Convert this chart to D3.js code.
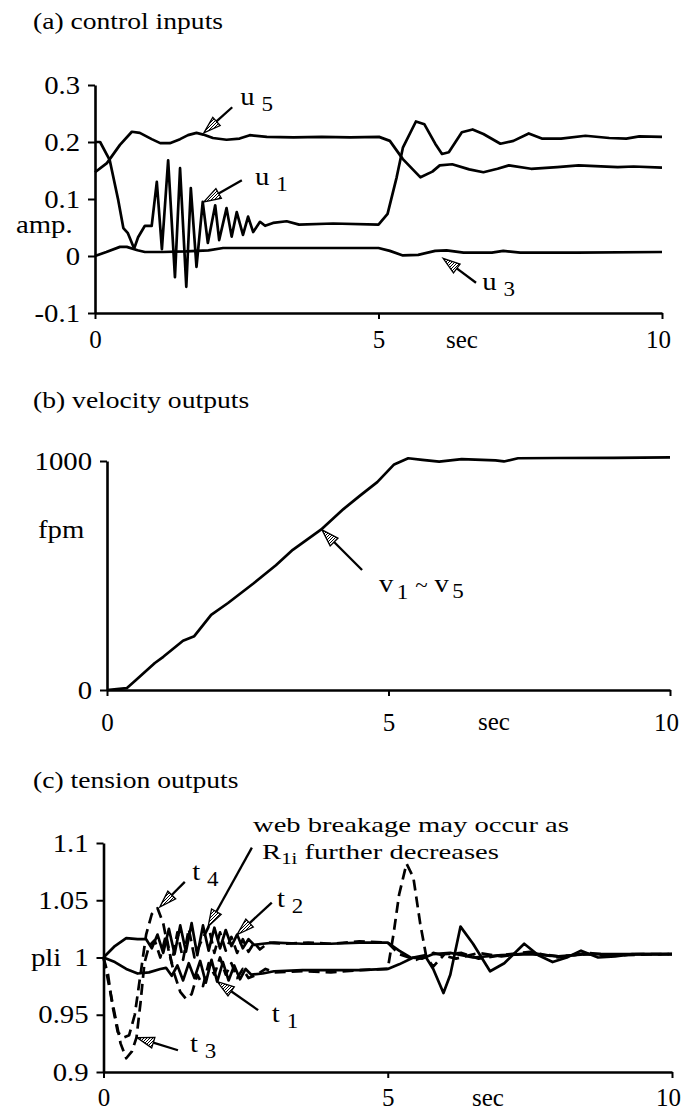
<!DOCTYPE html>
<html>
<head>
<meta charset="utf-8" />
<title>control inputs, velocity and tension outputs</title>
<script src="https://d3js.org/d3.v7.min.js"></script>
<style>
  body { margin: 0; background: #fff; }
  svg text { font-family: "Liberation Serif", "Times New Roman", serif; fill: #000; }
</style>
</head>
<body>
<svg id="chart" width="681" height="1113"></svg>
<script>
// ---- shared x axis (seconds)
var secTicks = [0, 5, 10];
var secTickLabels = ["0", "5", "10"];

// ---- (a) control inputs
var ampTicks = [-0.1, 0, 0.1, 0.2, 0.3];
var ampTickLabels = ["-0.1", "0", "0.1", "0.2", "0.3"];

var u1T = [0, 0.09, 0.26, 0.41, 0.5, 0.58, 0.69, 0.76, 0.88, 1.0, 1.09, 1.18, 1.29, 1.41, 1.5, 1.61, 1.69, 1.79, 1.9, 1.99, 2.12, 2.19, 2.32, 2.41, 2.5, 2.61, 2.7, 2.79, 2.91, 3.0, 3.14, 3.38, 3.6, 4.2, 5.0, 5.16, 5.32, 5.43, 5.66, 5.81, 6.0, 6.12, 6.24, 6.47, 6.66, 6.85, 7.15, 7.38, 7.65, 7.88, 8.22, 8.65, 9.07, 9.37, 9.6, 10];
var u1V = [0.2, 0.2, 0.168, 0.098, 0.049, 0.04, 0.013, 0.033, 0.053, 0.053, 0.13, 0.012, 0.168, -0.037, 0.154, -0.054, 0.119, -0.019, 0.095, 0.023, 0.089, 0.028, 0.084, 0.034, 0.077, 0.037, 0.069, 0.042, 0.06, 0.053, 0.058, 0.061, 0.055, 0.057, 0.055, 0.074, 0.138, 0.19, 0.236, 0.231, 0.197, 0.179, 0.182, 0.217, 0.222, 0.214, 0.197, 0.202, 0.215, 0.206, 0.206, 0.211, 0.207, 0.206, 0.21, 0.209];

var u5T = [0, 0.21, 0.44, 0.65, 0.79, 1.0, 1.15, 1.32, 1.5, 1.64, 1.79, 1.91, 2.08, 2.32, 2.55, 2.73, 3.03, 3.5, 4.0, 4.5, 5.01, 5.2, 5.43, 5.74, 5.95, 6.08, 6.3, 6.6, 6.85, 7.1, 7.3, 7.69, 8.15, 8.53, 9.22, 9.5, 10];
var u5V = [0.147, 0.163, 0.195, 0.218, 0.216, 0.205, 0.198, 0.198, 0.205, 0.212, 0.216, 0.213, 0.207, 0.204, 0.206, 0.212, 0.209, 0.208, 0.209, 0.208, 0.209, 0.202, 0.17, 0.138, 0.148, 0.159, 0.161, 0.152, 0.147, 0.153, 0.159, 0.153, 0.156, 0.159, 0.156, 0.157, 0.155];

var u3T = [0, 0.2, 0.44, 0.56, 0.75, 0.88, 1.2, 1.6, 2.0, 2.26, 2.6, 3.5, 4.5, 5.0, 5.2, 5.43, 5.7, 6.0, 6.2, 6.5, 7.0, 7.2, 7.5, 8.5, 10];
var u3V = [0, 0.007, 0.016, 0.016, 0.01, 0.007, 0.007, 0.008, 0.01, 0.014, 0.014, 0.014, 0.014, 0.014, 0.009, 0.001, 0.002, 0.009, 0.01, 0.006, 0.006, 0.009, 0.006, 0.006, 0.007];

// ---- (b) velocity outputs (v1 ~ v5 overlap)
var fpmTicks = [0, 1000];
var fpmTickLabels = ["0", "1000"];
var velT = [0, 0.35, 0.5, 0.85, 1.0, 1.35, 1.55, 1.85, 2.15, 2.6, 3.0, 3.3, 3.8, 4.2, 4.5, 4.8, 5.1, 5.35, 5.6, 5.9, 6.3, 6.9, 7.05, 7.3, 8, 9, 10];
var velV = [0, 8, 40, 118, 145, 215, 235, 328, 380, 465, 545, 612, 700, 790, 850, 908, 985, 1012, 1005, 997, 1008, 1003, 998, 1012, 1013, 1014, 1016];

// ---- (c) tension outputs
var pliTicks = [0.9, 0.95, 1, 1.05, 1.1];
var pliTickLabels = ["0.9", "0.95", "1", "1.05", "1.1"];

var t1T = [0, 0.2, 0.4, 0.6, 0.8, 1.0, 1.1, 1.2, 1.3, 1.4, 1.5, 1.6, 1.7, 1.8, 1.9, 2.0, 2.1, 2.2, 2.3, 2.4, 2.5, 2.6, 2.8, 3.0, 3.5, 4.0, 4.5, 5.0, 5.2, 5.45, 5.65, 5.8, 5.98, 6.1, 6.28, 6.5, 6.8, 7.05, 7.4, 7.65, 7.9, 8.15, 8.4, 8.7, 9.0, 9.3, 10];
var t1V = [1.0, 0.996, 0.99, 0.986, 0.987, 0.99, 0.991, 0.984, 0.993, 0.98, 0.995, 0.982, 0.997, 0.978, 0.998, 0.979, 0.996, 0.98, 0.993, 0.981, 0.99, 0.985, 0.986, 0.988, 0.989, 0.989, 0.989, 0.99, 0.994, 1.0, 1.002, 0.99, 0.969, 0.985, 1.027, 1.012, 0.988, 0.995, 1.012, 1.002, 0.996, 1.0, 1.006, 1.0, 1.001, 1.003, 1.003];

var t2T = [0, 0.2, 0.4, 0.6, 0.75, 0.85, 0.95, 1.05, 1.15, 1.25, 1.35, 1.45, 1.55, 1.65, 1.75, 1.85, 1.95, 2.05, 2.15, 2.25, 2.35, 2.45, 2.55, 2.65, 2.8, 3.0, 3.5, 4.0, 4.5, 5.0, 5.2, 5.4, 5.6, 5.8, 6.1, 6.5, 7.0, 7.5, 8.0, 8.5, 9.0, 9.5, 10];
var t2V = [1.0, 1.01, 1.017, 1.016, 1.016, 1.008, 1.02, 1.004, 1.025, 1.003, 1.028, 1.005, 1.03, 1.002, 1.028, 1.006, 1.026, 1.008, 1.024, 1.01, 1.02, 1.008, 1.016, 1.011, 1.012, 1.013, 1.012, 1.012, 1.013, 1.013, 1.006, 1.0, 0.999, 1.003, 1.004, 1.0, 1.002, 1.003, 1.001, 1.003, 1.003, 1.003, 1.003];

var t3T = [0, 0.1, 0.2, 0.3, 0.4, 0.5, 0.58, 0.65, 0.72, 0.8, 0.9, 1.0, 1.1, 1.2, 1.3, 1.4, 1.5, 1.6, 1.7, 1.85, 1.95, 2.05, 2.15, 2.25, 2.35, 2.45, 2.55, 2.65, 2.75, 2.9, 3.2, 3.6, 4.0, 4.5, 5.0, 5.2, 5.5, 5.8, 6.2, 6.6, 7.0, 7.5, 8.0, 8.5, 9.0, 9.5, 10];
var t3V = [1.0, 0.975, 0.95, 0.925, 0.912, 0.918, 0.93, 0.96, 0.995, 1.01, 1.015, 1.0, 1.02, 0.995, 1.022, 0.998, 1.025, 1.0, 1.012, 1.027, 1.004, 1.022, 1.006, 1.018, 1.004, 1.016, 1.005, 1.013, 1.007, 1.013, 1.012, 1.013, 1.012, 1.014, 1.013, 1.003, 0.998, 1.004, 0.999, 1.004, 1.001, 1.004, 1.001, 1.003, 1.002, 1.003, 1.003];

var t4T = [0, 0.08, 0.15, 0.25, 0.35, 0.45, 0.55, 0.65, 0.75, 0.85, 0.95, 1.05, 1.15, 1.25, 1.35, 1.45, 1.55, 1.65, 1.75, 1.85, 1.95, 2.05, 2.15, 2.25, 2.35, 2.45, 2.55, 2.7, 2.85, 3.0, 3.5, 4.0, 4.5, 5.0, 5.1, 5.2, 5.33, 5.45, 5.57, 5.68, 5.8, 6.0, 6.3, 6.6, 7.0, 7.5, 8.0, 8.5, 9.0, 10];
var t4V = [1.0, 0.985, 0.96, 0.935, 0.93, 0.932, 0.95, 0.985, 1.02, 1.038, 1.043, 1.03, 1.005, 0.985, 0.97, 0.964, 0.968, 0.985, 0.975, 0.995, 0.985, 1.0, 0.985, 0.995, 0.982, 0.99, 0.982, 0.985, 0.99, 0.987, 0.988, 0.987, 0.989, 0.99, 1.02, 1.055, 1.082, 1.07, 1.03, 1.0, 0.992, 1.003, 1.004, 0.999, 1.002, 1.005, 1.0, 1.004, 1.002, 1.003];

var SX = 1.15; // the scanned lettering is a bit wider than plain Times
var svg = d3.select("#chart");

// hatched fill for the arrow heads
svg.append("defs").append("pattern")
    .attr("id", "hatch").attr("width", 3).attr("height", 3)
    .attr("patternUnits", "userSpaceOnUse")
    .call(function(p) {
        p.append("rect").attr("width", 3).attr("height", 3).attr("fill", "#fff");
        p.append("path").attr("d", "M0,3L3,0").attr("stroke", "#000").attr("stroke-width", 1);
    });

function text(g, x, y, str, size, anchor, sx) {
    return g.append("text")
        .attr("transform", "translate(" + x + "," + y + ") scale(" + (sx || SX) + ",1)")
        .attr("font-size", size)
        .attr("text-anchor", anchor || "start")
        .text(str);
}

// main letter followed by a lowered subscript, e.g. u 5
function subLabel(g, x, y, main, sub) {
    var t = g.append("text")
        .attr("transform", "translate(" + x + "," + y + ") scale(" + SX + ",1)")
        .attr("font-size", 25);
    t.append("tspan").text(main);
    t.append("tspan").attr("dx", 6).attr("dy", 6).attr("font-size", 20).text(sub);
    return t;
}

function arrow(g, x1, y1, x2, y2) {
    var ang = Math.atan2(y2 - y1, x2 - x1);
    var L = 17, W = 5.5;
    var bx = x2 - L * Math.cos(ang), by = y2 - L * Math.sin(ang);
    var px = -Math.sin(ang) * W, py = Math.cos(ang) * W;
    g.append("line")
        .attr("x1", x1).attr("y1", y1).attr("x2", bx).attr("y2", by)
        .attr("stroke", "#000").attr("stroke-width", 2.3);
    g.append("path")
        .attr("d", "M" + x2 + "," + y2 + "L" + (bx + px) + "," + (by + py) + "L" + (bx - px) + "," + (by - py) + "Z")
        .attr("fill", "url(#hatch)").attr("stroke", "#000").attr("stroke-width", 1.3);
}

function makePanel(cfg) {
    var x = d3.scaleLinear().domain([0, 10]).range([cfg.left, cfg.right]);
    var y = d3.scaleLinear().domain(cfg.yDomain).range([cfg.bottom, cfg.top]);
    var g = svg.append("g");

    var xa = g.append("g")
        .attr("transform", "translate(0," + cfg.bottom + ")")
        .call(d3.axisBottom(x).tickValues(secTicks)
            .tickFormat(function(d, i) { return secTickLabels[i]; })
            .tickSize(6).tickSizeOuter(0).tickPadding(cfg.xPad));

    var ya = g.append("g")
        .attr("transform", "translate(" + cfg.left + ",0)")
        .call(d3.axisLeft(y).tickValues(cfg.yTicks)
            .tickFormat(function(d, i) { return cfg.yLabels[i]; })
            .tickSize(7).tickSizeOuter(0).tickPadding(6));

    g.selectAll(".domain").attr("stroke", "#000").attr("stroke-width", 2.6);
    g.selectAll(".tick line").attr("stroke", "#000").attr("stroke-width", 2);
    g.selectAll(".tick text")
        .attr("font-size", 25)
        .attr("font-family", "'Liberation Serif', 'Times New Roman', serif");
    ya.selectAll(".tick text").attr("transform", "scale(" + SX + ",1)");
    xa.selectAll(".tick text").attr("dx", function(d) { return d === 10 ? -4 : 0; });

    var line = d3.line()
        .x(function(d) { return x(d[0]); })
        .y(function(d) { return y(d[1]); });

    cfg.series.forEach(function(s) {
        g.append("path")
            .datum(d3.zip(s.t, s.v))
            .attr("fill", "none")
            .attr("stroke", "#000")
            .attr("stroke-width", 2.7)
            .attr("stroke-linejoin", "round")
            .attr("stroke-dasharray", s.dashed ? "11,6" : null)
            .attr("d", line);
    });

    text(g, 33, cfg.titleY, cfg.title, 24);
    text(g, cfg.secX, cfg.secY, "sec", 25, "middle", 1);
    text(g, cfg.unitX, cfg.unitY, cfg.unit, 25);

    return { g: g, x: x, y: y };
}

// ---- panel (a)
var pa = makePanel({
    left: 95, right: 662, top: 85, bottom: 313, xPad: 11,
    yDomain: [-0.1, 0.3], yTicks: ampTicks, yLabels: ampTickLabels,
    title: "(a) control inputs", titleY: 29,
    secX: 462, secY: 348, unit: "amp.", unitX: 16, unitY: 233,
    series: [
        { t: u5T, v: u5V },
        { t: u1T, v: u1V },
        { t: u3T, v: u3V }
    ]
});
arrow(pa.g, pa.x(2.42), pa.y(0.261), pa.x(1.92), pa.y(0.216));
subLabel(pa.g, pa.x(2.56), pa.y(0.265), "u", "5");
arrow(pa.g, pa.x(2.59), pa.y(0.133), pa.x(1.92), pa.y(0.095));
subLabel(pa.g, pa.x(2.82), pa.y(0.125), "u", "1");
arrow(pa.g, pa.x(6.72), pa.y(-0.047), pa.x(6.14), pa.y(-0.004));
subLabel(pa.g, pa.x(6.83), pa.y(-0.06), "u", "3");

// ---- panel (b)
var pb = makePanel({
    left: 107, right: 670, top: 461, bottom: 690, xPad: 17,
    yDomain: [0, 1000], yTicks: fpmTicks, yLabels: fpmTickLabels,
    title: "(b) velocity outputs", titleY: 408,
    secX: 494, secY: 730, unit: "fpm", unitX: 38, unitY: 538,
    series: [{ t: velT, v: velV }]
});
arrow(pb.g, pb.x(4.53), pb.y(524), pb.x(3.82), pb.y(699));
(function() {
    var t = pb.g.append("text")
        .attr("transform", "translate(" + pb.x(4.83) + "," + pb.y(428) + ") scale(" + SX + ",1)")
        .attr("font-size", 25);
    t.append("tspan").text("v");
    t.append("tspan").attr("dx", 3).attr("dy", 7).attr("font-size", 20).text("1");
    t.append("tspan").attr("dx", 6).attr("dy", -7).attr("font-size", 20).text("~");
    t.append("tspan").attr("dx", 6).text("v");
    t.append("tspan").attr("dx", 3).attr("dy", 6).attr("font-size", 20).text("5");
})();

// ---- panel (c)
var pc = makePanel({
    left: 103.5, right: 672, top: 843, bottom: 1072, xPad: 10,
    yDomain: [0.9, 1.1], yTicks: pliTicks, yLabels: pliTickLabels,
    title: "(c) tension outputs", titleY: 788,
    secX: 488, secY: 1106, unit: "pli", unitX: 31, unitY: 966,
    series: [
        { t: t1T, v: t1V },
        { t: t2T, v: t2V },
        { t: t3T, v: t3V, dashed: true },
        { t: t4T, v: t4V, dashed: true }
    ]
});
arrow(pc.g, pc.x(1.43), pc.y(1.066), pc.x(0.99), pc.y(1.044));
subLabel(pc.g, pc.x(1.56), pc.y(1.0677), "t", "4");
arrow(pc.g, pc.x(2.61), pc.y(1.096), pc.x(1.84), pc.y(1.027));
arrow(pc.g, pc.x(2.96), pc.y(1.048), pc.x(2.35), pc.y(1.02));
subLabel(pc.g, pc.x(3.05), pc.y(1.044), "t", "2");
arrow(pc.g, pc.x(2.72), pc.y(0.954), pc.x(2.0), pc.y(0.979));
subLabel(pc.g, pc.x(2.96), pc.y(0.9437), "t", "1");
arrow(pc.g, pc.x(1.31), pc.y(0.919), pc.x(0.59), pc.y(0.93));
subLabel(pc.g, pc.x(1.52), pc.y(0.9175), "t", "3");

text(pc.g, pc.x(2.63), pc.y(1.1095), "web breakage may occur as", 22, "start", 1.3);
(function() {
    var t = pc.g.append("text")
        .attr("transform", "translate(" + pc.x(2.79) + "," + pc.y(1.0862) + ") scale(1.3,1)")
        .attr("font-size", 22);
    t.append("tspan").text("R");
    t.append("tspan").attr("dy", 5).attr("font-size", 16).text("1i");
    t.append("tspan").attr("dy", -5).text(" further decreases");
})();
</script>
</body>
</html>
